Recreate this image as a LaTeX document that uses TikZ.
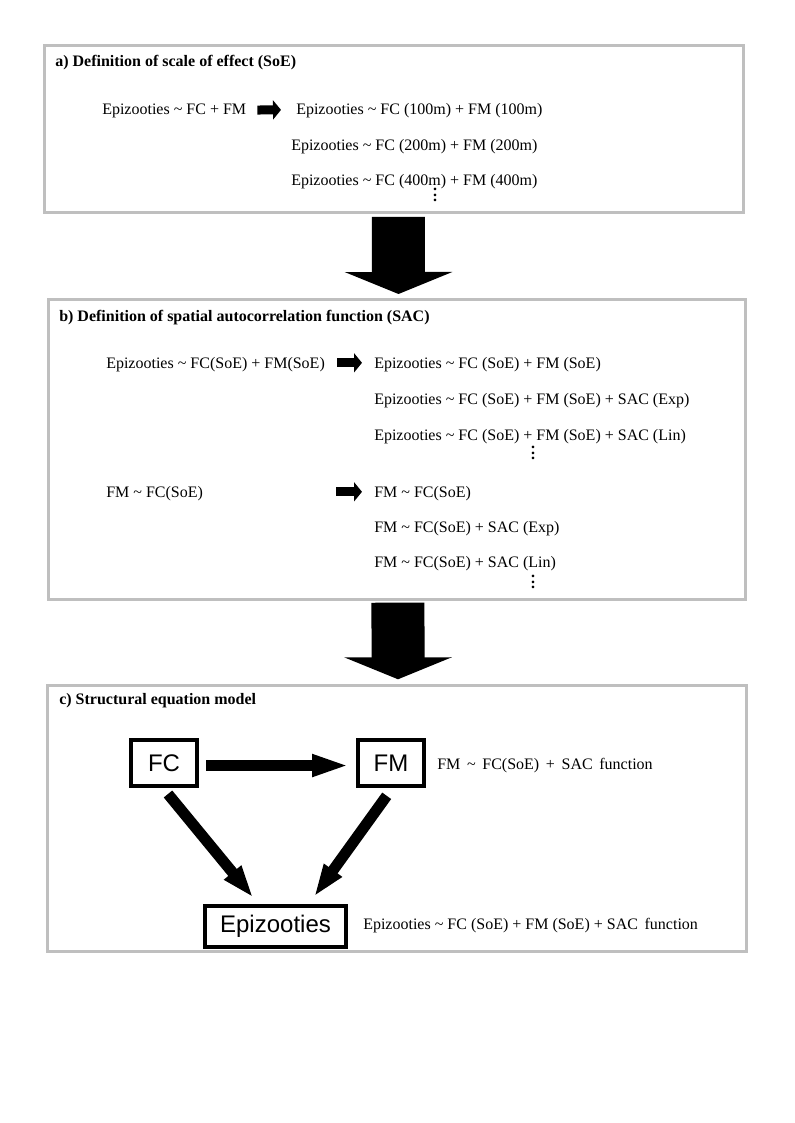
\documentclass[tikz,border=0pt]{standalone}
\usepackage{fontspec}
\setmainfont{Liberation Serif}
\setsansfont{Liberation Sans}
\usetikzlibrary{arrows.meta,calc}

\newcommand{\tld}{\textasciitilde}
\newcommand{\wsp}{\hspace{5pt}}

\tikzset{
  panel/.style={draw=gray!50, line width=2.25pt, outer sep=0pt, inner sep=0pt, anchor=north west},
  heading/.style={anchor=base west, inner sep=0pt, font=\fontsize{12pt}{14pt}\selectfont\bfseries},
  eqn/.style={anchor=base west, inner sep=0pt, font=\fontsize{12pt}{14pt}\selectfont},
  vdot/.style={anchor=base, inner sep=0pt, font=\fontsize{12pt}{14pt}\selectfont\bfseries},
  var/.style={draw, line width=3pt, inner sep=0pt, font=\fontsize{18pt}{21pt}\selectfont\sffamily},
  blockarrow/.style={line width=6.75pt, -{Triangle[length=6pt,width=14.25pt]}},
  bigarrow/.style={line width=39.75pt, -{Triangle[length=16.5pt,width=80.25pt]}},
  semarrow/.style={line width=8.25pt, -{Triangle[length=28.5pt,width=15pt]}}
}

\begin{document}
\begin{tikzpicture}[x=0.75pt, y=-0.75pt]
  \useasboundingbox (0,0) rectangle (794,1123);

  % a)
  \node[panel, minimum width=524.25pt, minimum height=125.25pt] (boxA) at (44.3,45.7) {};
  \node[heading] (titleA) at (55,67) {a) Definition of scale of effect (SoE)};
  \node[eqn] (eqA0) at (102,115) {Epizooties \tld{} FC + FM};
  \node[eqn] (eqA1) at (296,115) {Epizooties \tld{} FC (100m) + FM (100m)};
  \node[eqn] (eqA2) at (291,151) {Epizooties \tld{} FC (200m) + FM (200m)};
  \node[eqn] (eqA3) at (291,186) {Epizooties \tld{} FC (400m) + FM (400m)};
  \node[vdot] (dotsA) at (435,201.5) {\smash{\vdots}};
  \draw[blockarrow, shorten <=8.25pt, shorten >=11.25pt] ([yshift=1pt]eqA0.east) -- ([yshift=1pt]eqA1.west);

  % b)
  \node[panel, minimum width=523.1pt, minimum height=225pt] (boxB) at (48.5,299) {};
  \node[heading] (titleB) at (59,321) {b) Definition of spatial autocorrelation function (SAC)};
  \node[eqn] (eqB0) at (106,368) {Epizooties \tld{} FC(SoE) + FM(SoE)};
  \node[eqn] (eqB1) at (374,368) {Epizooties \tld{} FC (SoE) + FM (SoE)};
  \node[eqn] (eqB2) at (374,404) {Epizooties \tld{} FC (SoE) + FM (SoE) + SAC (Exp)};
  \node[eqn] (eqB3) at (374,440) {Epizooties \tld{} FC (SoE) + FM (SoE) + SAC (Lin)};
  \node[vdot] (dotsB1) at (533,459.5) {\smash{\vdots}};
  \node[eqn] (eqB4) at (106,497) {FM \tld{} FC(SoE)};
  \node[eqn] (eqB5) at (374,497) {FM \tld{} FC(SoE)};
  \node[eqn] (eqB6) at (374,532.7) {FM \tld{} FC(SoE) + SAC (Exp)};
  \node[eqn] (eqB7) at (374,567) {FM \tld{} FC(SoE) + SAC (Lin)};
  \node[vdot] (dotsB2) at (533,588.5) {\smash{\vdots}};
  \draw[blockarrow, shorten <=9pt, shorten >=9pt] ([yshift=1pt]eqB0.east) -- ([yshift=1pt]eqB1.west);
  \draw[blockarrow, shorten <=99.75pt, shorten >=9pt] ([yshift=1pt]eqB4.east) -- ([yshift=1pt]eqB5.west);

  % c)
  \node[panel, minimum width=523.9pt, minimum height=199.9pt] (boxC) at (47.5,685) {};
  \node[heading] (titleC) at (59,704) {c) Structural equation model};
  \node[var, minimum width=49.5pt, minimum height=34.5pt] (FC) at (164,763) {FC};
  \node[var, minimum width=49.5pt, minimum height=34.5pt] (FM) at (391,763) {FM};
  \node[var, minimum width=105.75pt, minimum height=30.75pt] (Epi) at (275.5,926.5) {Epizooties};
  \node[eqn] (eqFM) at (437,769) {FM\wsp\tld\wsp FC(SoE)\wsp +\wsp SAC\wsp function};
  \node[eqn] (eqEpi) at (363,929) {Epizooties \tld{} FC (SoE) + FM (SoE) + SAC\wsp function};

  \draw[semarrow, shorten <=5.25pt, shorten >=4.5pt] ([yshift=-1.9pt]FC.east) -- ([yshift=-1.9pt]FM.west);
  \draw[semarrow, -{Triangle[length=24.5pt,width=15pt]}] ($(FC.south)+(4,6)$) -- ($(Epi.north)+(-22.2,-6.3)$);
  \draw[semarrow, -{Triangle[length=24.5pt,width=15pt]}] ($(FM.south)+(-4.3,7.8)$) -- ($(Epi.north)+(38.5,-7.3)$);

  % panel to panel
  \draw[bigarrow, shorten <=3.2pt, shorten >=3.75pt] ([xshift=3.5pt]boxA.south) -- ([xshift=0.95pt]boxB.north);
  \draw[bigarrow, shorten <=2.8pt, shorten >=4.3pt] ([xshift=0.56pt]boxB.south) -- ([xshift=0.94pt]boxC.north);
\end{tikzpicture}
\end{document}
